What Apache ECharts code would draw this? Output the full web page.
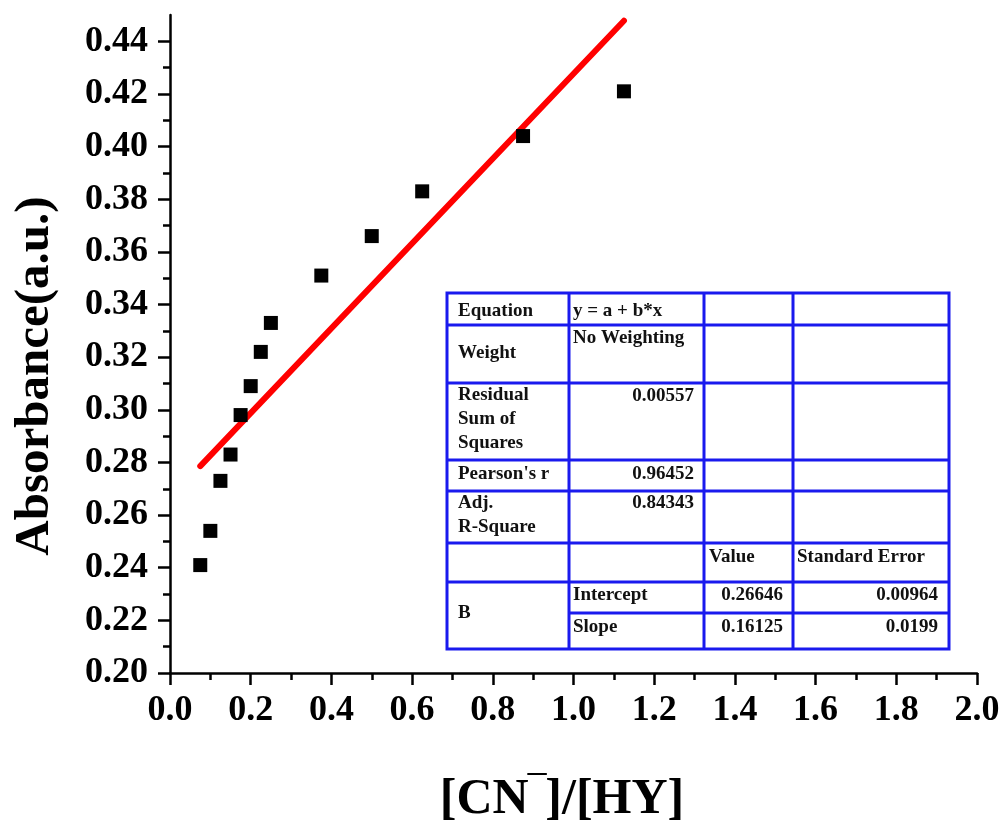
<!DOCTYPE html>
<html>
<head>
<meta charset="utf-8">
<script src="https://cdn.jsdelivr.net/npm/echarts@6/dist/echarts.min.js"></script>
<style>
  html, body { margin: 0; padding: 0; background: #fff; }
  #main { width: 1004px; height: 825px; }
</style>
</head>
<body>
<div id="main"></div>
<script>
// measured points
var ratioX = [0.075, 0.1, 0.125, 0.15, 0.175, 0.2, 0.225, 0.25, 0.375, 0.5, 0.625, 0.875, 1.125];
var absY = [0.241, 0.254, 0.273, 0.283, 0.298, 0.309, 0.322, 0.333, 0.351, 0.366, 0.383, 0.404, 0.421];

// fitted line ends
var fitX = [0.075, 1.125];
var fitY = [0.2786, 0.4478];

var yTicks = [0.20, 0.22, 0.24, 0.26, 0.28, 0.30, 0.32, 0.34, 0.36, 0.38, 0.40, 0.42, 0.44];
var yMinorTicks = [0.21, 0.23, 0.25, 0.27, 0.29, 0.31, 0.33, 0.35, 0.37, 0.39, 0.41, 0.43];

// fit report table text
var tableLeft = ['Equation', 'Weight', 'Residual\nSum of\nSquares', "Pearson's r", 'Adj.\nR-Square', '', 'B'];
var tableValues = ['0.00557', '0.96452', '0.84343'];
var paramNames = ['Intercept', 'Slope'];
var paramValues = ['0.26646', '0.16125'];
var paramErrors = ['0.00964', '0.0199'];

var chart = echarts.init(document.getElementById('main'));

var font = 'Liberation Serif, Times New Roman, serif';
var blue = '#1a1aee';
var colX = [447, 569, 704, 793, 949];
var rowY = [293, 325, 383, 460, 491, 543, 582, 613, 649];

function cellText(x, y, text, align) {
  return {
    type: 'text',
    x: x,
    y: y,
    z: 101,
    style: {
      text: text,
      font: 'bold 19px ' + font,
      fill: '#111',
      align: align || 'left',
      verticalAlign: 'middle',
      lineHeight: 24
    }
  };
}

var table = [];
table.push({
  type: 'rect', z: 100,
  shape: { x: colX[0], y: rowY[0], width: colX[4] - colX[0], height: rowY[8] - rowY[0] },
  style: { fill: '#fff', stroke: blue, lineWidth: 3 }
});
for (var i = 1; i < rowY.length - 1; i++) {
  var x0 = rowY[i] === 613 ? colX[1] : colX[0];
  table.push({
    type: 'line', z: 101,
    shape: { x1: x0, y1: rowY[i], x2: colX[4], y2: rowY[i] },
    style: { stroke: blue, lineWidth: 3 }
  });
}
for (var j = 1; j < colX.length - 1; j++) {
  table.push({
    type: 'line', z: 101,
    shape: { x1: colX[j], y1: rowY[0], x2: colX[j], y2: rowY[8] },
    style: { stroke: blue, lineWidth: 3 }
  });
}
table.push(cellText(458, 311, tableLeft[0]));
table.push(cellText(573, 311, 'y = a + b*x'));
table.push(cellText(458, 353, tableLeft[1]));
table.push(cellText(573, 338, 'No Weighting'));
table.push(cellText(458, 419, tableLeft[2]));
table.push(cellText(694, 396, tableValues[0], 'right'));
table.push(cellText(458, 474, tableLeft[3]));
table.push(cellText(694, 474, tableValues[1], 'right'));
table.push(cellText(458, 515, tableLeft[4]));
table.push(cellText(694, 503, tableValues[2], 'right'));
table.push(cellText(709, 557, 'Value'));
table.push(cellText(797, 557, 'Standard Error'));
table.push(cellText(458, 613, tableLeft[6]));
table.push(cellText(573, 595, paramNames[0]));
table.push(cellText(783, 595, paramValues[0], 'right'));
table.push(cellText(938, 595, paramErrors[0], 'right'));
table.push(cellText(573, 627, paramNames[1]));
table.push(cellText(783, 627, paramValues[1], 'right'));
table.push(cellText(938, 627, paramErrors[1], 'right'));

var option = {
  backgroundColor: '#fff',
  animation: false,
  grid: { left: 170, right: 27, top: 15, bottom: 152 },
  xAxis: {
    type: 'value',
    min: 0,
    max: 2,
    interval: 0.2,
    splitLine: { show: false },
    axisLine: { show: true, onZero: false, lineStyle: { color: '#000', width: 2.5 } },
    axisTick: { show: true, inside: false, length: 12, lineStyle: { color: '#000', width: 2.5 } },
    minorTick: { show: true, splitNumber: 2, length: 7, lineStyle: { color: '#000', width: 2.5 } },
    axisLabel: {
      margin: 20,
      color: '#000',
      fontFamily: font,
      fontWeight: 'bold',
      fontSize: 36,
      formatter: function (v) { return v.toFixed(1); }
    }
  },
  yAxis: [{
    type: 'value',
    min: 0.2,
    max: 0.45,
    splitLine: { show: false },
    axisLine: { show: true, onZero: false, lineStyle: { color: '#000', width: 2.5 } },
    axisTick: { show: true, inside: false, length: 12, customValues: yTicks, lineStyle: { color: '#000', width: 2.5 } },
    axisLabel: {
      margin: 22,
      color: '#000',
      fontFamily: font,
      fontWeight: 'bold',
      fontSize: 36,
      customValues: yTicks,
      formatter: function (v) { return v.toFixed(2); }
    }
  }, {
    type: 'value',
    position: 'left',
    min: 0.2,
    max: 0.45,
    splitLine: { show: false },
    axisLine: { show: false },
    axisTick: { show: true, inside: false, length: 7, customValues: yMinorTicks, lineStyle: { color: '#000', width: 2.5 } },
    axisLabel: { show: false }
  }],
  series: [{
    type: 'scatter',
    symbol: 'rect',
    symbolSize: 14,
    itemStyle: { color: '#000', opacity: 1 },
    data: ratioX.map(function (x, k) { return [x, absY[k]]; }),
    z: 3
  }, {
    type: 'line',
    showSymbol: false,
    lineStyle: { color: '#ff0000', width: 6, cap: 'round' },
    data: fitX.map(function (x, k) { return [x, fitY[k]]; }),
    z: 2
  }],
  graphic: [{
    type: 'text',
    x: 35,
    y: 376,
    rotation: Math.PI / 2,
    style: {
      text: 'Absorbance(a.u.)',
      font: 'bold 49px ' + font,
      fill: '#000',
      align: 'center',
      verticalAlign: 'middle'
    }
  }, {
    type: 'text',
    x: 562,
    y: 800,
    style: {
      text: '{a|[CN}{s|‾}{a|]/[HY]}',
      align: 'center',
      verticalAlign: 'middle',
      rich: {
        a: { font: 'bold 50px ' + font, fill: '#000' },
        s: { font: 'bold 50px ' + font, fill: '#000' }
      }
    }
  }, {
    type: 'group',
    children: table
  }]
};

chart.setOption(option);
</script>
</body>
</html>
